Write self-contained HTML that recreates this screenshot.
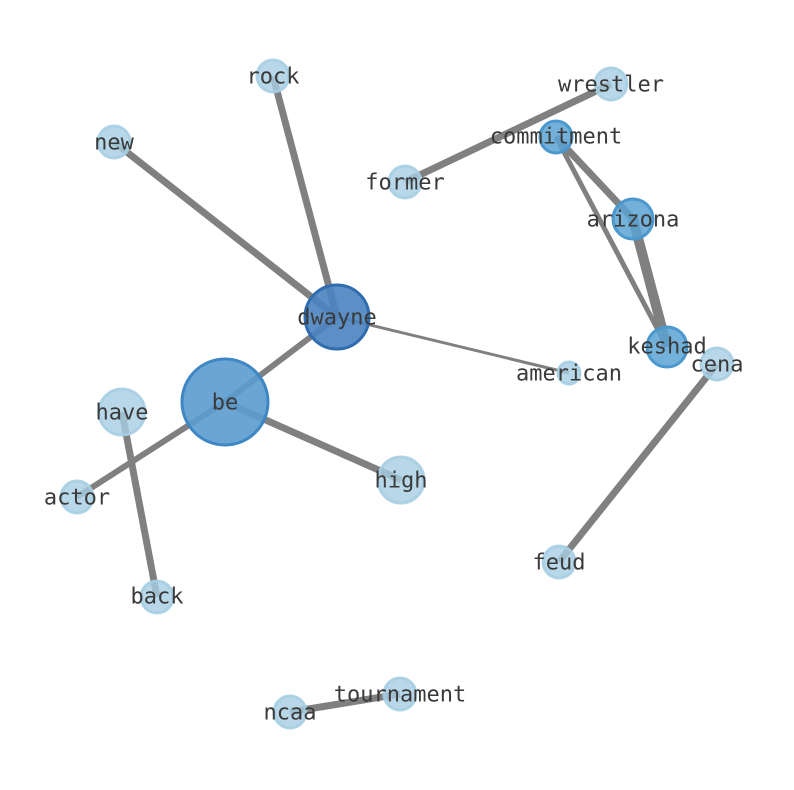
<!DOCTYPE html>
<html><head><meta charset="utf-8"><style>
html,body{margin:0;padding:0;background:#fff;width:794px;height:790px;overflow:hidden}
text{font-family:"DejaVu Sans Mono","Liberation Mono",monospace;font-size:22px;fill:#3a3a3a;text-anchor:middle;dominant-baseline:central}
</style></head><body>
<svg width="794" height="790" viewBox="0 0 794 790" xmlns="http://www.w3.org/2000/svg">
<g stroke="#808080" stroke-linecap="butt">
<line x1="273" y1="76" x2="337" y2="317" stroke-width="7"/>
<line x1="114" y1="142" x2="337" y2="317" stroke-width="7"/>
<line x1="337" y1="317" x2="569" y2="373" stroke-width="3"/>
<line x1="337" y1="317" x2="225" y2="402" stroke-width="6"/>
<line x1="225" y1="402" x2="77" y2="497" stroke-width="6"/>
<line x1="225" y1="402" x2="401" y2="480" stroke-width="7"/>
<line x1="122" y1="412" x2="157" y2="597" stroke-width="7"/>
<line x1="611" y1="84" x2="405" y2="182" stroke-width="7"/>
<line x1="556" y1="137" x2="633" y2="219" stroke-width="7"/>
<line x1="556" y1="137" x2="667" y2="347" stroke-width="5"/>
<line x1="633" y1="219" x2="667" y2="347" stroke-width="10"/>
<line x1="717" y1="364" x2="559" y2="562" stroke-width="7"/>
<line x1="290" y1="712" x2="400" y2="694" stroke-width="7"/>
</g>
<g stroke-width="3">
<g fill="#a6cee3" stroke="#a6cee3" fill-opacity="0.8" stroke-opacity="0.9">
<circle cx="273" cy="76" r="16"/><circle cx="114" cy="142" r="16"/><circle cx="611" cy="84" r="16"/>
<circle cx="405" cy="182" r="16"/><circle cx="717" cy="364" r="16"/><circle cx="569" cy="373" r="11"/>
<circle cx="122" cy="412" r="23"/><circle cx="401" cy="480" r="23"/><circle cx="77" cy="497" r="16"/>
<circle cx="559" cy="562" r="16"/><circle cx="157" cy="597" r="16"/><circle cx="400" cy="694" r="16"/>
<circle cx="290" cy="712" r="16"/>
</g>
<g fill="#5ba3d3" stroke="#4b98cf" fill-opacity="0.85">
<circle cx="556" cy="137" r="16"/><circle cx="633" cy="219" r="20"/><circle cx="667" cy="347" r="20"/>
</g>
<circle cx="225" cy="402" r="43" fill="#5a9bcf" stroke="#3f87c4" fill-opacity="0.9"/>
<circle cx="337" cy="317" r="32" fill="#4a83c0" stroke="#2f6db0" fill-opacity="0.9"/>
</g>
<text x="273" y="77">rock</text><text x="114" y="143">new</text><text x="611" y="85">wrestler</text>
<text x="556" y="137">commitment</text><text x="405" y="183">former</text><text x="633" y="220">arizona</text>
<text x="337" y="318">dwayne</text><text x="667" y="347">keshad</text><text x="717" y="365">cena</text>
<text x="569" y="374">american</text><text x="225" y="403">be</text><text x="122" y="413">have</text>
<text x="401" y="481">high</text><text x="77" y="498">actor</text><text x="559" y="563">feud</text>
<text x="157" y="597">back</text><text x="400" y="695">tournament</text><text x="290" y="713">ncaa</text>
</svg>
</body></html>
